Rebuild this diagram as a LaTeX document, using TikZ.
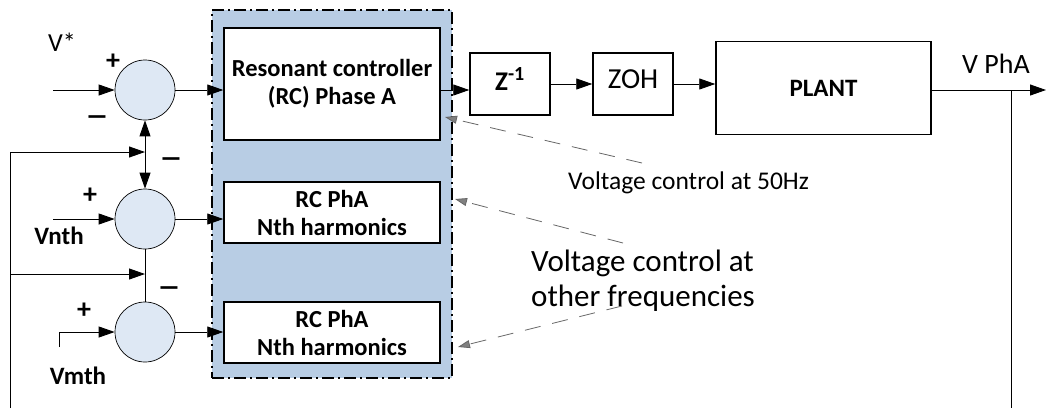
\documentclass[tikz,border=0pt]{standalone}
\usepackage{fontspec}
\setmainfont{Carlito}
\usetikzlibrary{positioning,arrows.meta}
\definecolor{regblue}{RGB}{184,205,228}
\definecolor{sumblue}{RGB}{222,232,244}

\begin{document}
\begin{tikzpicture}[x=1pt, y=-1pt,
  region/.style={draw, line width=1.5pt, fill=regblue,
                 dash pattern=on 12pt off 4pt on 2pt off 4pt,
                 minimum width=240pt, minimum height=368pt, inner sep=0pt},
  blk/.style={draw, line width=1.5pt, fill=white, minimum width=216pt,
              minimum height=61pt, align=center, inner sep=0pt,
              font=\bfseries\fontsize{24.5}{28}\selectfont},
  small/.style={draw, line width=1.5pt, fill=white, minimum width=80pt,
                minimum height=62pt, inner sep=0pt},
  sumc/.style={circle, draw, line width=0.7pt, fill=sumblue,
               minimum size=60pt, inner sep=0pt},
  sig/.style={line width=0.9pt, -{Triangle[length=16pt,width=11pt]}},
  sign/.style={font=\bfseries\fontsize{28}{28}\selectfont, inner sep=0pt},
  minus/.style={font=\bfseries\fontsize{30}{30}\selectfont, inner sep=0pt},
  lbl/.style={font=\fontsize{26}{26}\selectfont, inner sep=0pt},
  note/.style={gray!80!black, line width=0.8pt, dash pattern=on 16pt off 12pt,
               -{Triangle[length=12pt,width=8pt,fill=gray]}},
  ]
  \useasboundingbox (0,0) rectangle (1048,408);

  \node[region] (rcgroup) at (332,194) {};
  \node[blk, minimum height=112pt] (rc1) at (332,84) {Resonant controller\\(RC) Phase A};
  \node[blk] (rc2) at (332,212.5) {RC PhA\\Nth harmonics};
  \node[blk] (rc3) at (332,332.5) {RC PhA\\Nth harmonics};

  \node[sumc] (c1) at (145,90) {};
  \node[sumc] (c2) at (145,219) {};
  \node[sumc] (c3) at (145,332) {};

  \node[small] (zbox) at (510,84)
    {\raisebox{10pt}{\fontsize{27}{27}\selectfont\textbf{Z\textsuperscript{\fontsize{20}{20}\selectfont -1}}}};
  \node[small] (zoh) at (633,84)
    {\raisebox{10pt}{\fontsize{29}{29}\selectfont ZOH}};
  \node[draw, line width=1.5pt, minimum width=215pt, minimum height=93pt,
        font=\bfseries\fontsize{25}{25}\selectfont] (plant) at (823.5,88) {PLANT};

  \node[lbl] (vstar) at (62,42) {V*};
  \node[lbl, font=\bfseries\fontsize{25}{25}\selectfont] (vnth) at (59,236) {Vnth};
  \node[lbl, font=\bfseries\fontsize{25}{25}\selectfont] (vmth) at (78,376) {Vmth};
  \node[lbl, font=\fontsize{28}{28}\selectfont] (vpha) at (996,64) {V PhA};

  \node[sign] (p1) at (113,62) {+};
  \node[minus] (m1) at (97,121) {\scalebox{1.6}[1]{–}};
  \node[minus] (m2) at (171,163) {\scalebox{1.6}[1]{–}};
  \node[sign] (p2) at (90,196) {+};
  \node[minus] (m3) at (169,292) {\scalebox{1.6}[1]{–}};
  \node[sign] (p3) at (84,311) {+};

  \coordinate (vin) at (53,90);
  \coordinate (vnin) at (53,219);
  \coordinate (vmin) at (59,347);
  \coordinate (vout) at (1046,90);
  \coordinate (br) at (1011,90);
  \coordinate (brbot) at (1011,408);
  \coordinate (fbtop) at (10,152);
  \coordinate (fbmid) at (10,274);
  \coordinate (fbbot) at (10,408);

  \draw[sig] (vin) -- (c1);
  \draw[sig] (vnin) -- (c2);
  \draw[sig] (vmin) |- (c3);
  \draw[sig] (c1) -- (c1 -| rc1.west);
  \draw[sig] (c2) -- (c2 -| rc2.west);
  \draw[sig] (c3) -- (c3 -| rc3.west);
  \draw[line width=0.9pt, {Triangle[length=16pt,width=11pt]}-{Triangle[length=16pt,width=11pt]}] (c1) -- (c2);
  \draw[line width=0.9pt] (c2) -- (c3);
  \draw[sig] (fbbot) -- (fbtop) -- (c1 |- fbtop);
  \draw[sig] (fbmid) -- (c2 |- fbmid);

  \draw[sig] (rc1.east |- c1) -- (zbox.west |- c1);
  \draw[sig] (zbox) -- (zoh);
  \draw[sig] (zoh.east) -- (zoh.east -| plant.west);
  \draw[sig] (plant.east |- vout) -- (vout);
  \draw[line width=0.9pt] (br) -- (brbot);

  \node[font=\fontsize{25.5}{25.5}\selectfont, anchor=west, inner sep=0pt] (n50) at (568,183)
    {Voltage control at 50Hz};
  \node[font=\fontsize{31}{35}\selectfont, anchor=west, align=left, inner sep=0pt] (nother) at (531,281)
    {Voltage control at\\other frequencies};
  \coordinate (n1s) at (642,163);
  \coordinate (n1e) at (445,117);
  \coordinate (n2s) at (623,243);
  \coordinate (n2e) at (455,199);
  \coordinate (n3s) at (622,306);
  \coordinate (n3e) at (458,347);
  \draw[note] (n1s) -- (n1e);
  \draw[note] (n2s) -- (n2e);
  \draw[note] (n3s) -- (n3e);
\end{tikzpicture}
\end{document}
